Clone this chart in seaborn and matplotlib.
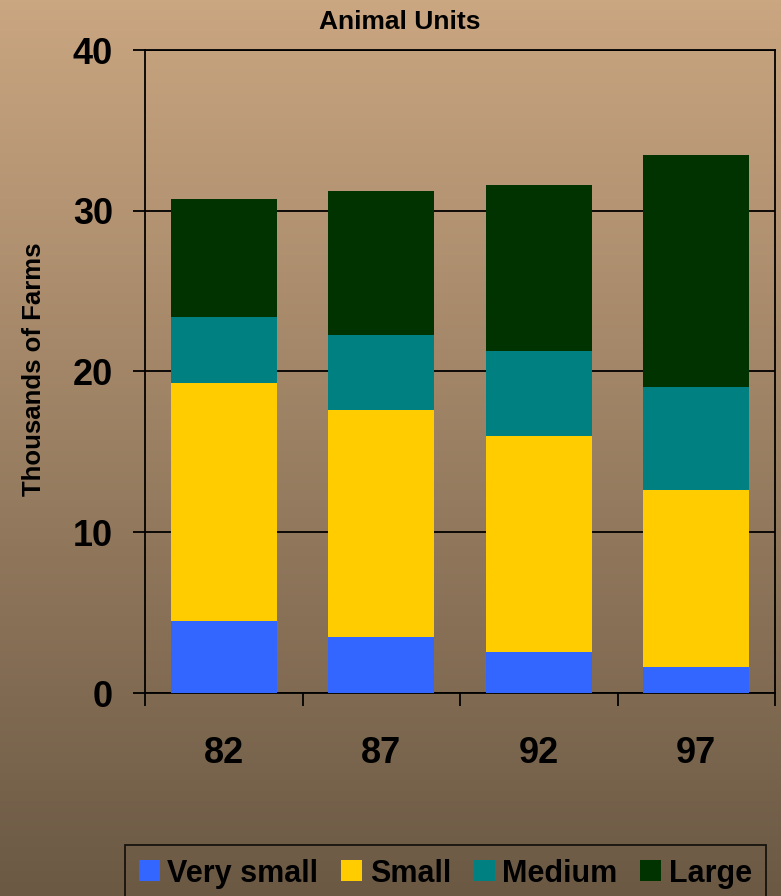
import numpy as np
import pandas as pd
import matplotlib
matplotlib.use("Agg")
import matplotlib.pyplot as plt
import seaborn as sns

# ---- data ----
years = ["82", "87", "92", "97"]
very_small = [4.48, 3.48, 2.55, 1.62]
small = [14.81, 14.13, 13.44, 11.01]
medium = [4.11, 4.67, 5.29, 6.41]
large = [7.34, 8.96, 10.33, 14.44]
series_names = ["Very small", "Small", "Medium", "Large"]
series_colors = ["#3366FF", "#FFCC00", "#008080", "#003300"]
y_ticks = [0, 10, 20, 30, 40]

sns.set_theme(style="white")
plt.rcParams["font.family"] = ["Liberation Sans", "DejaVu Sans"]
plt.rcParams["font.weight"] = "bold"
for k in ["text.color", "axes.labelcolor", "xtick.color", "ytick.color"]:
    plt.rcParams[k] = "black"
plt.rcParams["xtick.bottom"] = True
plt.rcParams["ytick.left"] = True

W, H = 781, 896
fig = plt.figure(figsize=(W / 100, H / 100), dpi=100)

# gradient background
bg = fig.add_axes([0, 0, 1, 1], zorder=-10)
top = np.array([202, 166, 129]) / 255.0
bot = np.array([107, 89, 68]) / 255.0
t = np.linspace(0, 1, 256)[:, None]
grad = top[None, :] * (1 - t) + bot[None, :] * t
bg.imshow(grad[:, None, :].repeat(2, axis=1), aspect="auto", extent=[0, 1, 0, 1])
bg.set_axis_off()

ax = fig.add_axes([145 / W, 1 - 693 / H, (775 - 145) / W, (693 - 50) / H])
ax.set_facecolor("none")

df = pd.DataFrame({"year": years, "Very small": very_small, "Small": small,
                   "Medium": medium, "Large": large})
cum = df[series_names].cumsum(axis=1)

# draw tallest (cumulative) first so the lower segments overlay
for name, color in reversed(list(zip(series_names, series_colors))):
    sns.barplot(x=df["year"], y=cum[name], color=color, saturation=1,
                width=0.673, errorbar=None, label=name, ax=ax, zorder=3,
                edgecolor="none", linewidth=0)

if ax.get_legend() is not None:
    ax.get_legend().remove()

ax.set_xlim(-0.5, 3.5)
ax.set_ylim(0, 40)
ax.set_yticks(y_ticks)
ax.set_yticklabels([str(v) for v in y_ticks], fontsize=26, fontweight="bold")
ax.set_xticks(range(len(years)))
ax.set_xticklabels(years, fontsize=26, fontweight="bold")
ax.set_xticks(np.arange(-0.5, 4.0, 1.0), minor=True)
ax.tick_params(axis="x", which="major", length=0, pad=31, colors="black")
ax.tick_params(axis="x", which="minor", bottom=True, length=9, width=1.3,
               color="black", direction="out")
ax.tick_params(axis="y", which="major", left=True, length=9, width=1.3, pad=14,
               color="black", direction="out")
ax.set_axisbelow(True)
ax.yaxis.grid(True, color="black", linewidth=1.3)
ax.xaxis.grid(False)
for s in ax.spines.values():
    s.set_color("black")
    s.set_linewidth(1.3)
    s.set_visible(True)

ax.set_xlabel("")
ax.set_ylabel("Thousands of Farms", fontsize=18.5, fontweight="bold", color="black")
ax.yaxis.set_label_coords(-0.157, 0.503)

fig.text(400 / W, 1 - 22 / H, "Animal Units", ha="center", va="center",
         fontsize=19, fontweight="bold", color="black")

handles, labels = ax.get_legend_handles_labels()
order = [labels.index(n) for n in series_names]
leg = fig.legend([handles[i] for i in order], [labels[i] for i in order],
                 loc="center", bbox_to_anchor=(445.5 / W, 1 - 873.5 / H),
                 ncol=4, prop={"weight": "bold", "size": 22},
                 handlelength=0.68, handleheight=0.68, handletextpad=0.25,
                 columnspacing=0.75, borderpad=0.45, fancybox=False,
                 frameon=True)
leg.get_frame().set_edgecolor("black")
leg.get_frame().set_linewidth(1.3)
leg.get_frame().set_facecolor("none")
for txt in leg.get_texts():
    txt.set_color("black")

fig.savefig("out.png", dpi=100)
